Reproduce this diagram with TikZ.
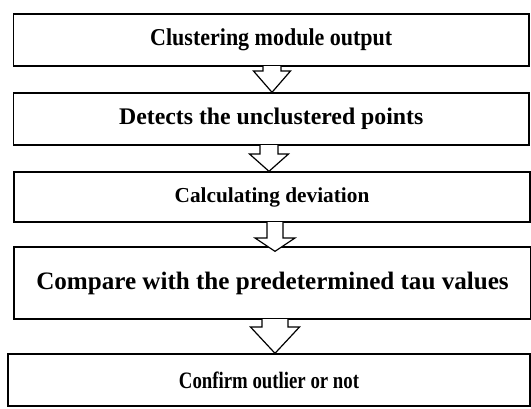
\documentclass[tikz,border=0pt]{standalone}
\usepackage{graphicx}
\usepackage{fontspec}
\setmainfont{Liberation Serif}
\usetikzlibrary{calc}

\tikzset{
  procbox/.style={draw, line width=1.4pt, fill=white, inner sep=0pt},
  arrowline/.style={draw, fill=white, line width=1.2pt, line join=miter}
}

% hollow block arrow: from, to, centre x, shaft half width, head half width, shoulder y, overshoot
\newcommand{\hollowarrow}[7]{%
  \filldraw[arrowline] let \p1=(#1.south), \p2=(#2.north) in
    (#3-#4,\y1+0.7pt) -- (#3-#4,#6) -- (#3-#5,#6) -- (#3,\y2-#7pt)
    -- (#3+#5,#6) -- (#3+#4,#6) -- (#3+#4,\y1+0.7pt);
}

\begin{document}
\begin{tikzpicture}[x=1pt, y=-1pt]
  \useasboundingbox (0,0) rectangle (531,408);
  % process boxes
  \node[procbox, minimum width=515.5pt, minimum height=52pt,
        font=\bfseries\fontsize{22}{26}\selectfont] (cluster) at (271.25,40)
        {\scalebox{1}[1.1]{Clustering module output}};
  \node[procbox, minimum width=515.5pt, minimum height=52pt,
        font=\bfseries\fontsize{23.8}{28}\selectfont] (detect) at (271.25,119)
        {Detects the unclustered points};
  \node[procbox, minimum width=516pt, minimum height=50pt,
        font=\bfseries\fontsize{21.3}{25}\selectfont] (deviate) at (272,197)
        {Calculating deviation};
  \node[procbox, minimum width=517pt, minimum height=72pt,
        font=\bfseries\fontsize{25.1}{29}\selectfont] (compare) at (272.5,283)
        {Compare with the predetermined tau values};
  \node[procbox, minimum width=522pt, minimum height=52pt,
        font=\bfseries\fontsize{18.8}{23}\selectfont] (confirm) at (269,380)
        {\scalebox{1}[1.25]{Confirm outlier or not}};
  % block arrows
  \hollowarrow{cluster}{detect}{272}{9}{18.5}{71}{0}
  \hollowarrow{detect}{deviate}{269}{9}{19.5}{154}{0}
  \hollowarrow{deviate}{compare}{275}{8}{20}{238}{5}
  \hollowarrow{compare}{confirm}{275}{13}{24.5}{327}{0}
\end{tikzpicture}
\end{document}
